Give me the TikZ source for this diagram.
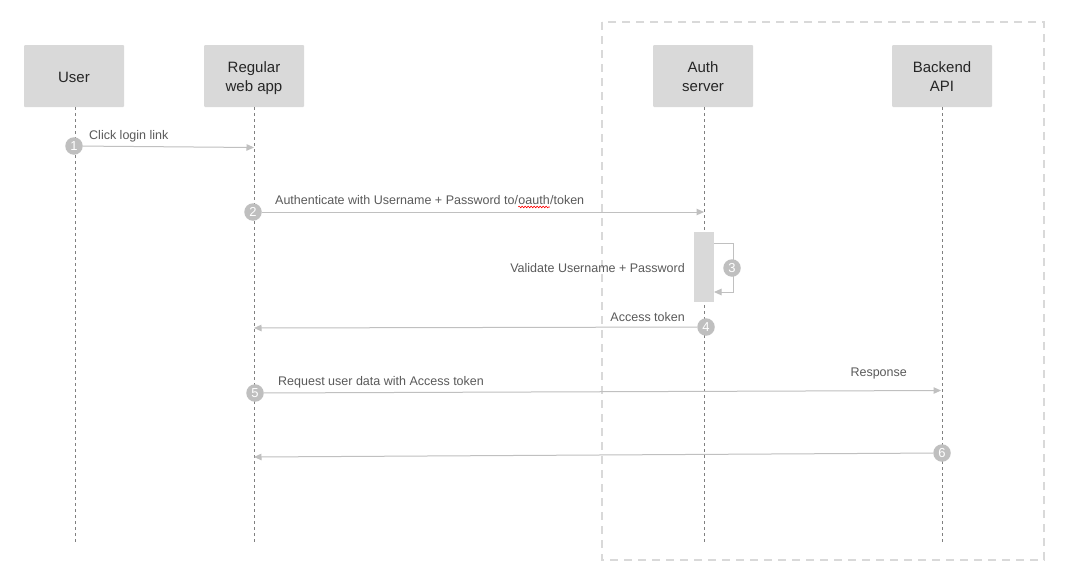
\documentclass[tikz,border=0pt]{standalone}
\usepackage{fontspec}
\setmainfont{Liberation Sans}
\usetikzlibrary{arrows.meta,decorations.pathmorphing}

\definecolor{boxfill}{HTML}{D9D9D9}
\definecolor{boxtext}{HTML}{262626}
\definecolor{msgtext}{HTML}{5A5A5A}
\definecolor{msgline}{HTML}{C0C0C0}
\definecolor{lifeline}{HTML}{808080}
\definecolor{stepfill}{HTML}{BFBFBF}
\definecolor{zoneline}{HTML}{D9D9D9}

\tikzset{
  actor/.style={rectangle, fill=boxfill, minimum width=100pt, minimum height=62pt,
    inner sep=0pt, rounded corners=1pt,
    label={[inner sep=0pt, align=center, font=\fontsize{15}{19}\selectfont,
            text=boxtext, text depth=0pt, yshift=-1pt]center:#1}},
  life/.style={draw=lifeline, line width=0.8pt, dash pattern=on 3pt off 3pt},
  msg/.style={draw=msgline, line width=1pt, -{Triangle[length=7.5pt,width=6.5pt]}},
  msglabel/.style={inner sep=0pt, font=\fontsize{12.5}{15}\selectfont, text=msgtext},
  stepnum/.style={circle, fill=stepfill, minimum size=17.5pt, inner sep=0pt,
    text=white, font=\fontsize{13}{15}\selectfont},
  zone/.style={draw=zoneline, line width=2pt, dash pattern=on 8pt off 6pt},
  activation/.style={rectangle, fill=boxfill, minimum width=20pt, minimum height=70pt, inner sep=0pt}
}

\begin{document}
\begin{tikzpicture}[x=1pt, y=-1pt]
  \useasboundingbox (0,0) rectangle (1073,581);
  \fill[white] (0,0) rectangle (1073,581);

  % server-side zone
  \draw[zone] (602,22) rectangle (1044,560);

  % participants
  \node[actor={User}]             (user) at (74,76) {};
  \node[actor={Regular\\web app}] (app)  at (254,76) {};
  \node[actor={Auth\\server}]     (auth) at (703,76) {};
  \node[actor={Backend\\API}]     (api)  at (942,76) {};

  % lifeline ends
  \coordinate (userEnd) at (75,545);
  \coordinate (appEnd)  at (254,545);
  \coordinate (authEnd) at (704,545);
  \coordinate (apiEnd)  at (942,545);

  \draw[life] (user.south -| userEnd) -- (userEnd);
  \draw[life] (app.south  -| appEnd)  -- (appEnd);
  \draw[life] (auth.south -| authEnd) -- (authEnd);
  \draw[life] (api.south  -| apiEnd)  -- (apiEnd);

  % activation on the auth server
  \node[activation] (act) at (704,267) {};

  % message end points on lifelines
  \coordinate (m1) at (254,147.5);
  \coordinate (m2) at (704,212);
  \coordinate (m4) at (254,328);
  \coordinate (m5) at (941,390.5);
  \coordinate (m6) at (254,457);
  \coordinate (s3a) at (733,243);
  \coordinate (s3b) at (733,292);
  \coordinate (s3c) at (714,292);

  % 1: click login link
  \node[stepnum] (c1) at (74,146) {1};
  \draw[msg] (c1) -- (m1);
  \node[msglabel, anchor=west] (l1) at (89,136) {Click login link};

  % 2: authenticate
  \node[stepnum] (c2) at (253,212) {2};
  \draw[msg] (c2) -- (m2);
  \node[msglabel, anchor=west] (l2a) at (275,200) {Authenticate with Username + Password to/};
  \node[msglabel, anchor=base west] (l2b) at (l2a.base east) {oauth};
  \node[msglabel, anchor=base west] (l2c) at (l2b.base east) {/token};
  \draw[red, line width=0.6pt, decorate,
        decoration={snake, amplitude=0.8pt, segment length=3pt}]
    ([yshift=-2.5pt]l2b.base west) -- ([yshift=-2.5pt]l2b.base east);

  % 3: validate credentials (self call)
  \draw[msg] (act.east |- s3a) -- (s3a) -- (s3b) -- (s3c);
  \node[stepnum] (c3) at (732,268) {3};
  \node[msglabel, anchor=east] (l3) at (685,268) {Validate Username + Password};

  % 4: access token
  \node[stepnum] (c4) at (706,327) {4};
  \draw[msg] (c4) -- (m4);
  \node[msglabel, anchor=east] (l4) at (685,317) {Access token};

  % 5: request user data
  \node[stepnum] (c5) at (255,393) {5};
  \draw[msg] (c5) -- (m5);
  \node[msglabel, anchor=west] (l5) at (278,382) {Request user data with Access token};
  \node[msglabel, anchor=east] (l5r) at (907,373) {Response};

  % 6: response back to the app
  \node[stepnum] (c6) at (942,453) {6};
  \draw[msg] (c6) -- (m6);
\end{tikzpicture}
\end{document}
